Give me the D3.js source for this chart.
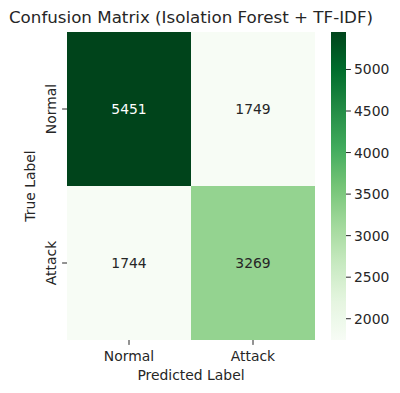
<!DOCTYPE html>
<html><head><meta charset="utf-8">
<script src="https://cdn.jsdelivr.net/npm/d3@7"></script>
<style>body{margin:0;background:#fff}svg{display:block}text{font-family:"DejaVu Sans",sans-serif;fill:#262626}</style>
</head><body><svg id="c" width="400" height="393"></svg>
<script>
const trueLabels = ["Normal", "Attack"];
const predLabels = ["Normal", "Attack"];
const values = [[5451, 1749], [1744, 3269]];
const cbTicks = [2000, 2500, 3000, 3500, 4000, 4500, 5000];
const greens = ["#f7fcf5","#e5f5e0","#c7e9c0","#a1d99b","#74c476","#41ab5d","#238b45","#006d2c","#00441b"];

const svg = d3.select("#c");
const L = 67, R = 315, T = 32, B = 340;
const flat = values.flat();
const vmin = d3.min(flat), vmax = d3.max(flat);
const interp = d3.interpolateRgbBasis ? null : null;
const cScale = d3.scaleLinear().domain(greens.map((_, i) => vmin + (vmax - vmin) * i / (greens.length - 1))).range(greens).interpolate(d3.interpolateRgb).clamp(true);

const x = d3.scaleBand().domain(predLabels).range([L, R]);
const y = d3.scaleBand().domain(trueLabels).range([T, B]);

const cells = [];
trueLabels.forEach((t, i) => predLabels.forEach((p, j) => cells.push({t, p, v: values[i][j]})));

svg.selectAll("rect.cell").data(cells).enter().append("rect")
  .attr("x", d => x(d.p)).attr("y", d => y(d.t))
  .attr("width", x.bandwidth()).attr("height", y.bandwidth())
  .attr("fill", d => cScale(d.v)).attr("shape-rendering", "crispEdges");

function lum(c) {
  const rgb = d3.rgb(c);
  const f = v => { v /= 255; return v <= 0.03928 ? v / 12.92 : Math.pow((v + 0.055) / 1.055, 2.4); };
  return 0.2126 * f(rgb.r) + 0.7152 * f(rgb.g) + 0.0722 * f(rgb.b);
}
svg.selectAll("text.ann").data(cells).enter().append("text")
  .attr("x", d => x(d.p) + x.bandwidth() / 2).attr("y", d => y(d.t) + y.bandwidth() / 2 + 5)
  .attr("text-anchor", "middle").attr("font-size", "13.9px")
  .style("fill", d => lum(cScale(d.v)) > 0.408 ? "#262626" : "#ffffff")
  .text(d => d.v);

// x axis
const xg = svg.append("g");
predLabels.forEach(p => {
  const cx = x(p) + x.bandwidth() / 2;
  xg.append("line").attr("x1", cx).attr("x2", cx).attr("y1", B).attr("y2", B + 4.9).attr("stroke", "#262626").attr("stroke-width", 1);
  xg.append("text").attr("x", cx).attr("y", B + 21).attr("text-anchor", "middle").attr("font-size", "13.9px").text(p);
});
svg.append("text").attr("x", (L + R) / 2).attr("y", 380).attr("text-anchor", "middle").attr("font-size", "13.9px").text("Predicted Label");

// y axis
trueLabels.forEach(t => {
  const cy = y(t) + y.bandwidth() / 2;
  svg.append("line").attr("x1", L - 4.9).attr("x2", L).attr("y1", cy).attr("y2", cy).attr("stroke", "#262626");
  svg.append("text").attr("transform", `translate(55.5,${cy}) rotate(-90)`).attr("text-anchor", "middle").attr("font-size", "13.9px").text(t);
});
svg.append("text").attr("transform", `translate(35,${(T + B) / 2}) rotate(-90)`).attr("text-anchor", "middle").attr("font-size", "13.9px").text("True Label");

// title
svg.append("text").attr("x", (L + R) / 2).attr("y", 23).attr("text-anchor", "middle").attr("font-size", "16.7px").text("Confusion Matrix (Isolation Forest + TF-IDF)");

// colorbar
const cbL = 331, cbW = 15;
const cy = d3.scaleLinear().domain([vmin, vmax]).range([B, T]);
const defs = svg.append("defs");
const grad = defs.append("linearGradient").attr("id", "g").attr("x1", 0).attr("x2", 0).attr("y1", 1).attr("y2", 0);
d3.range(0, 1.0001, 0.02).forEach(o => grad.append("stop").attr("offset", o).attr("stop-color", cScale(vmin + o * (vmax - vmin))));
svg.append("rect").attr("x", cbL).attr("y", T).attr("width", cbW).attr("height", B - T).attr("fill", "url(#g)");
cbTicks.forEach(v => {
  svg.append("line").attr("x1", cbL + cbW).attr("x2", cbL + cbW + 4.9).attr("y1", cy(v)).attr("y2", cy(v)).attr("stroke", "#262626");
  svg.append("text").attr("x", cbL + cbW + 8).attr("y", cy(v) + 5).attr("font-size", "13.9px").text(v);
});
</script></body></html>
